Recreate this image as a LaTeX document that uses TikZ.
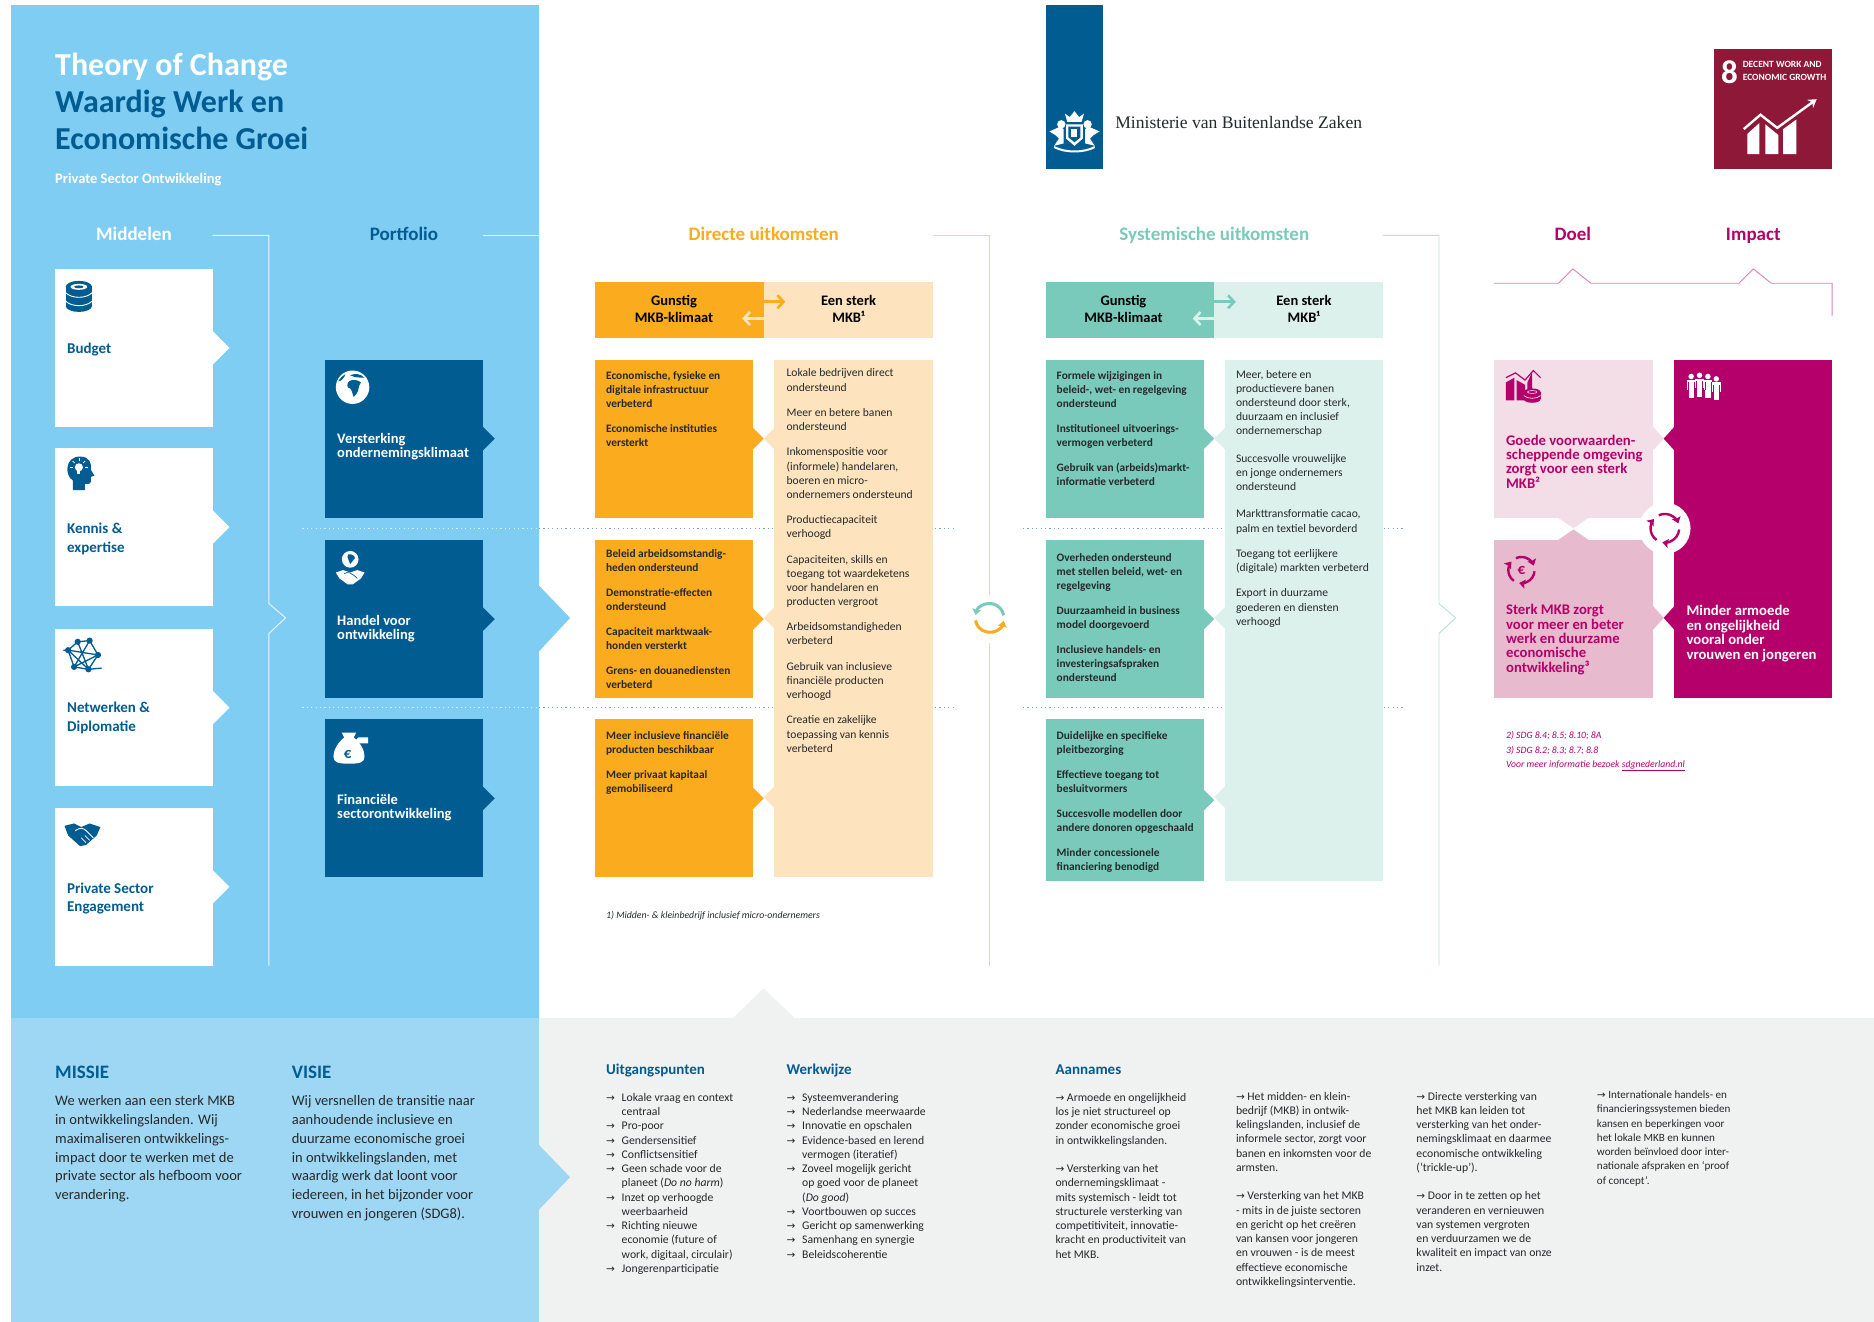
\documentclass[tikz,border=0pt]{standalone}
\usepackage{fontspec}
\usetikzlibrary{calc,arrows.meta}
\setmainfont{Carlito}
\newfontfamily\arfont{DejaVu Sans}
\newfontfamily\serfont{Liberation Serif}
\definecolor{panel}{HTML}{7FCDF3}
\definecolor{panellow}{HTML}{9ED7F3}
\definecolor{graylow}{HTML}{F0F1F1}
\definecolor{db}{HTML}{015C92}
\definecolor{org}{HTML}{FBAB1E}
\definecolor{cream}{HTML}{FEE3BF}
\definecolor{orgl}{HTML}{F8D594}
\definecolor{teal1}{HTML}{7ACABC}
\definecolor{teall}{HTML}{DCF1EC}
\definecolor{tealln}{HTML}{B5E2D9}
\definecolor{mag}{HTML}{B5006B}
\definecolor{pinkl}{HTML}{F3DDE6}
\definecolor{pinkm}{HTML}{E7BACD}
\definecolor{pinkln}{HTML}{DB82B4}
\definecolor{sdg}{HTML}{8E1837}
\definecolor{dotb}{HTML}{6FA8CC}
\definecolor{ink}{HTML}{26292B}
\newcommand\ar{{\arfont\fontsize{10.5}{10.5}\selectfont →}}
\newcommand\la[1]{\makebox[15.6pt][l]{\ar}#1}
\newcommand\li[1]{\hspace*{15.6pt}#1}
\tikzset{
 tx/.style n args={3}{inner sep=0pt,anchor=north west,align=left,font=\fontsize{#1}{#2}\selectfont #3,yshift=#1*0.36pt,execute at begin node={\rule{0pt}{1em}}},
 sg/.style={yshift=#1*0.26pt},
 bodyb/.style={tx={11.35}{14}{\bfseries},text=ink},
 bodyr/.style={tx={11.6}{14.1}{},text=ink},
 hdr/.style={tx={14.5}{17.8}{\bfseries},anchor=north,align=center,text=black},
 res/.style={tx={15}{18.6}{\bfseries},text=db},
 por/.style={tx={14.5}{14.2}{\bfseries},text=white},
 dl/.style={tx={14.7}{14.4}{\bfseries},text=mag},
 sect/.style={tx={19}{22}{\bfseries},anchor=north,sg=19},
 low/.style={tx={14.5}{18.8}{},text=ink},
 lowh/.style={tx={19}{22}{\bfseries},text=db,sg=19},
 lsm/.style={tx={11.7}{14.25}{},text=ink},
 lsmh/.style={tx={15}{18}{\bfseries},text=db,sg=15},
 blk/.style={inner sep=0pt,outer sep=0pt,draw=none},
 dotl/.style={line width=1pt,dash pattern=on 1.2pt off 3.2pt},
 rule/.style={line width=0.9pt},
}
\newcommand\bx[6]{\node[blk,fill=#6,minimum width={(#4-#2)*1.1952pt},minimum height={(#5-#3)*1.1952pt}] (#1) at ({(#2+#4)/2},{(#3+#5)/2}) {};}
\newcommand\tailr[3]{\fill[#2] ($(#1.east)+(0,-#3)$) -- ++(#3,#3) -- ++(-#3,#3) -- cycle;}
\newcommand\tailat[5]{\fill[#1] (#2,{#3-#5}) -- ++(#4,#5) -- ++(-#4,#5) -- cycle;}
\newcommand\cyc[5]{%
 \draw[#4,line width=3pt,{Stealth[length=6pt,width=9pt,inset=1pt]}-] ({#1+#3*cos(192)},{#2+#3*sin(192)}) arc[start angle=192,end angle=350,radius=#3];
 \draw[#5,line width=3pt,{Stealth[length=6pt,width=9pt,inset=1pt]}-] ({#1+#3*cos(12)},{#2+#3*sin(12)}) arc[start angle=12,end angle=170,radius=#3];}
\newcommand\cyct[4]{%
 \foreach \aa in {0,120,240}{\draw[#4,line width=2.4pt,-{Stealth[length=6pt,width=9pt,inset=1pt]}] ({#1+#3*cos(\aa+5)},{#2+#3*sin(\aa+5)}) arc[start angle=\aa+5,end angle=\aa+100,radius=#3];}}
\begin{document}
\begin{tikzpicture}[x=1.1952pt,y=-1.1952pt]
\useasboundingbox (0,0) rectangle (1568,1106);
\fill[white] (0,0) rectangle (1568,1106);
% panels
\fill[panel] (9,4) rectangle (451,852);
\fill[panellow] (9,852) rectangle (451,1106);
\fill[graylow] (451,852) rectangle (1568,1106);
\fill[graylow] (613,852) -- (639,827) -- (665,852) -- cycle;
\fill[panel] (451,490) -- (477,517) -- (451,545) -- cycle;
\fill[panellow] (451,958) -- (477,985) -- (451,1012) -- cycle;
% title
\node[tx={32}{37}{\bfseries},sg=32,text=white] (t1) at (46,53) {Theory of Change};
\node[tx={32}{37}{\bfseries},text=db] (t2) at (46,85) {Waardig Werk en\\Economische Groei};
\node[tx={14.5}{17}{\bfseries},sg=14.5,text=white] (t3) at (46,149) {Private Sector Ontwikkeling};
% section titles
\node[sect,text=white] (sMid) at (112,195) {Middelen};
\node[sect,text=db] (sPor) at (338,195) {Portfolio};
\node[sect,text=org] (sDir) at (639,195) {Directe uitkomsten};
\node[sect,text=teal1] (sSys) at (1016,195) {Systemische uitkomsten};
\node[sect,text=mag] (sDoel) at (1316,195) {Doel};
\node[sect,text=mag] (sImp) at (1467,195) {Impact};
% section rules
\coordinate (m0) at (178,197); \coordinate (m1) at (225,197); \coordinate (m2) at (225,505); \coordinate (m3) at (239,517); \coordinate (m4) at (225,530); \coordinate (m5) at (225,808);
\draw[rule,white!85!panel] (m0) -- (m1) -- (m2) -- (m3) -- (m4) -- (m5);
\coordinate (p0) at (404,197); \coordinate (p1) at (451,197);
\draw[rule,white!85!panel] (p0) -- (p1);
\coordinate (d0) at (781,197); \coordinate (d1) at (828,197); \coordinate (d2) at (828,498); \coordinate (d3) at (828,538); \coordinate (d4) at (828,808);
\draw[rule,orgl] (d0) -- (d1) -- (d2); \draw[rule,orgl] (d3) -- (d4);
\coordinate (s0) at (1157,197); \coordinate (s1) at (1204,197); \coordinate (s2) at (1204,505); \coordinate (s3) at (1218,517); \coordinate (s4) at (1204,530); \coordinate (s5) at (1204,808);
\draw[rule,tealln] (s0) -- (s1) -- (s2) -- (s3) -- (s4) -- (s5);
\coordinate (b0) at (1250,237); \coordinate (b1) at (1304,237); \coordinate (b2) at (1316,225); \coordinate (b3) at (1331,237); \coordinate (b4) at (1455,237); \coordinate (b5) at (1467,225); \coordinate (b6) at (1482,237); \coordinate (b7) at (1533,237); \coordinate (b8) at (1533,264);
\draw[rule,pinkln] (b0) -- (b1) -- (b2) -- (b3) -- (b4) -- (b5) -- (b6) -- (b7) -- (b8);
% dotted
\foreach \yy in {442,592}{
 \draw[dotl,white!70!panel] (253,\yy) -- (451,\yy);
 \draw[dotl,dotb] (451,\yy) -- (800,\yy);
 \draw[dotl,dotb] (856,\yy) -- (1176,\yy);}
% middelen
\bx{w1}{46}{225}{178}{357}{white} \tailr{w1}{white}{14}
\bx{w2}{46}{375}{178}{507}{white} \tailr{w2}{white}{14}
\bx{w3}{46}{526}{178}{658}{white} \tailr{w3}{white}{14}
\bx{w4}{46}{676}{178}{808}{white} \tailr{w4}{white}{14}
\node[res,sg=15] (wt1) at (56,291) {Budget};
\node[res] (wt2) at (56,442) {Kennis \&\\expertise};
\node[res] (wt3) at (56,592) {Netwerken \&\\Diplomatie};
\node[res] (wt4) at (56,743) {Private Sector\\Engagement};
% portfolio
\bx{p1b}{272}{301}{404}{433}{db} \tailr{p1b}{db}{10}
\bx{p2b}{272}{452}{404}{584}{db} \tailr{p2b}{db}{10}
\bx{p3b}{272}{602}{404}{734}{db} \tailr{p3b}{db}{10}
\node[por] (pt1) at (282,367) {Versterking\\ondernemingsklimaat};
\node[por] (pt2) at (282,519) {Handel voor\\ontwikkeling};
\node[por] (pt3) at (282,669) {Financiële\\sectorontwikkeling};
% directe
\bx{dh1}{498}{236}{639}{283}{org}
\bx{dh2}{639}{236}{781}{283}{cream}
\draw[org,line width=2.6pt,-{Straight Barb[length=6pt,width=13pt]}] ($(dh1.east)+(0,-7)$) -- ++(18,0);
\draw[cream,line width=2.6pt,-{Straight Barb[length=6pt,width=13pt]}] ($(dh1.east)+(0,7)$) -- ++(-18,0);
\node[hdr] (dht1) at (564,251) {Gunstig\\MKB-klimaat};
\node[hdr] (dht2) at (710,251) {Een sterk\\MKB¹};
\bx{o1}{498}{301}{630}{433}{org} \tailr{o1}{org}{9}
\bx{o2}{498}{452}{630}{584}{org} \tailr{o2}{org}{9}
\bx{o3}{498}{602}{630}{734}{org} \tailr{o3}{org}{9}
\bx{c1}{648}{301}{781}{734}{cream}
\tailat{cream}{648}{367}{-9}{9} \tailat{cream}{648}{517}{-9}{9} \tailat{cream}{648}{667}{-9}{9}
\node[bodyb] (ot1) at (507,314) {Economische, fysieke en\\digitale infrastructuur\\verbeterd\\[11pt]Economische instituties\\versterkt};
\node[bodyb] (ot2) at (507,463) {Beleid arbeidsomstandig-\\heden ondersteund\\[11pt]Demonstratie-effecten\\ondersteund\\[11pt]Capaciteit marktwaak-\\honden versterkt\\[11pt]Grens- en douanediensten\\verbeterd};
\node[bodyb] (ot3) at (507,615) {Meer inclusieve financiële\\producten beschikbaar\\[11pt]Meer privaat kapitaal\\gemobiliseerd};
\node[bodyr] (ct1) at (658,312) {Lokale bedrijven direct\\ondersteund\\[11.3pt]Meer en betere banen\\ondersteund\\[11.3pt]Inkomenspositie voor\\(informele) handelaren,\\boeren en micro-\\ondernemers ondersteund\\[11.3pt]Productiecapaciteit\\verhoogd\\[11.3pt]Capaciteiten, skills en\\toegang tot waardeketens\\voor handelaren en\\producten vergroot\\[11.3pt]Arbeidsomstandigheden\\verbeterd\\[11.3pt]Gebruik van inclusieve\\financiële producten\\verhoogd\\[11.3pt]Creatie en zakelijke\\toepassing van kennis\\verbeterd};
\node[tx={9.8}{13}{\itshape},sg=9.8,text=ink] (fn1) at (507,765) {1) Midden- \& kleinbedrijf inclusief micro-ondernemers};
\cyc{828}{517}{12}{teal1}{org}
% systemisch
\bx{sh1}{875}{236}{1016}{283}{teal1}
\bx{sh2}{1016}{236}{1157}{283}{teall}
\draw[teal1,line width=2.6pt,-{Straight Barb[length=6pt,width=13pt]}] ($(sh1.east)+(0,-7)$) -- ++(18,0);
\draw[teall,line width=2.6pt,-{Straight Barb[length=6pt,width=13pt]}] ($(sh1.east)+(0,7)$) -- ++(-18,0);
\node[hdr] (sht1) at (940,251) {Gunstig\\MKB-klimaat};
\node[hdr] (sht2) at (1091,251) {Een sterk\\MKB¹};
\bx{g1}{875}{301}{1007}{433}{teal1} \tailr{g1}{teal1}{9}
\bx{g2}{875}{452}{1007}{584}{teal1} \tailr{g2}{teal1}{9}
\bx{g3}{875}{602}{1007}{737}{teal1} \tailr{g3}{teal1}{9}
\bx{l1}{1025}{301}{1157}{737}{teall}
\tailat{teall}{1025}{367}{-9}{9} \tailat{teall}{1025}{517}{-9}{9} \tailat{teall}{1025}{667}{-9}{9}
\node[bodyb] (gt1) at (884,314) {Formele wijzigingen in\\beleid-, wet- en regelgeving\\ondersteund\\[11pt]Institutioneel uitvoerings-\\vermogen verbeterd\\[11pt]Gebruik van (arbeids)markt-\\informatie verbeterd};
\node[bodyb] (gt2) at (884,466) {Overheden ondersteund\\met stellen beleid, wet- en\\regelgeving\\[11pt]Duurzaamheid in business\\model doorgevoerd\\[11pt]Inclusieve handels- en\\investeringsafspraken\\ondersteund};
\node[bodyb] (gt3) at (884,615) {Duidelijke en specifieke\\pleitbezorging\\[11pt]Effectieve toegang tot\\besluitvormers\\[11pt]Succesvolle modellen door\\andere donoren opgeschaald\\[11pt]Minder concessionele\\financiering benodigd};
\node[bodyr] (lt1) at (1034,313) {Meer, betere en\\productievere banen\\ondersteund door sterk,\\duurzaam en inclusief\\ondernemerschap\\[13.5pt]Succesvolle vrouwelijke\\en jonge ondernemers\\ondersteund\\[13.5pt]Markttransformatie cacao,\\palm en textiel bevorderd\\[11.3pt]Toegang tot eerlijkere\\(digitale) markten verbeterd\\[11.3pt]Export in duurzame\\goederen en diensten\\verhoogd};
% doel impact
\bx{q1}{1250}{301}{1383}{433}{pinkl}
\bx{q2}{1250}{452}{1383}{584}{pinkm}
\bx{q3}{1401}{301}{1533}{584}{mag}
\tailat{pinkl}{1383}{367}{9}{10} \tailat{pinkm}{1383}{517}{9}{10}
\tailat{mag}{1401}{367}{-9}{10} \tailat{mag}{1401}{517}{-9}{10}
\fill[pinkl] ($(q1.south)+(-13,0)$) -- ++(13,9) -- ++(13,-9) -- cycle;
\fill[pinkm] ($(q2.north)+(-13,0)$) -- ++(13,-9) -- ++(13,9) -- cycle;
\fill[white] (1393,442) circle (21.5);
\cyct{1393}{442}{12}{mag}
\node[dl] (qt1) at (1260,368) {Goede voorwaarden-\\scheppende omgeving\\zorgt voor een sterk\\MKB²};
\node[dl] (qt2) at (1260,510) {Sterk MKB zorgt\\voor meer en beter\\werk en duurzame\\economische\\ontwikkeling³};
\node[dl,text=white] (qt3) at (1411,511) {Minder armoede\\en ongelijkheid\\vooral onder\\vrouwen en jongeren};
\node[tx={9.7}{14.2}{\itshape},text=mag] (qf) at (1260,615) {2) SDG 8.4; 8.5; 8.10; 8A\\3) SDG 8.2; 8.3; 8.7; 8.8\\Voor meer informatie bezoek \underline{sdgnederland.nl}};
% ministerie
\bx{mb}{875}{4}{923}{141}{db}
\node[tx={17.6}{22}{},sg=17.6,font=\fontsize{17.6}{22}\serfont,text=ink] (mt) at (933,102) {Ministerie van Buitenlandse Zaken};
\begin{scope}[shift={(899,113)},white]
 \fill (-6,-11) -- (-8,-18) -- (-4,-15) -- (0,-20) -- (4,-15) -- (8,-18) -- (6,-11) -- cycle;
 \fill (-7,-9) -- (7,-9) -- (7,3) -- (0,9) -- (-7,3) -- cycle;
 \fill[db] (-5,-7) -- (5,-7) -- (5,2) -- (0,6) -- (-5,2) -- cycle;
 \fill (-2.5,-5) rectangle (2.5,2);
 \fill (-11,-9) circle (3.5); \fill (11,-9) circle (3.5);
 \fill (-21,-3) -- (-12,-7) -- (-9,-5) -- (-9,7) -- (-17,9) -- (-13,3) -- (-16,0) -- cycle;
 \fill (21,-3) -- (12,-7) -- (9,-5) -- (9,7) -- (17,9) -- (13,3) -- (16,0) -- cycle;
 \draw[line width=2pt] (-17,10) .. controls (-8,15) and (8,15) .. (17,10);
\end{scope}
% SDG
\bx{sb}{1434}{41}{1533}{141}{sdg}
\node[tx={33}{33}{\bfseries},sg=33,text=white] (s8) at (1440,59) {8};
\node[tx={9.5}{13.2}{\bfseries},text=white] (st) at (1458,54) {DECENT WORK AND\\ECONOMIC GROWTH};
\fill[white] (1462,129) -- (1462,112) -- (1472,103) -- (1472,129) -- cycle;
\fill[white] (1477,129) -- (1477,104) -- (1488,113) -- (1488,129) -- cycle;
\fill[white] (1492,129) -- (1492,108) -- (1503,100) -- (1503,129) -- cycle;
\draw[white,line width=2.4pt,-{Stealth[length=8pt,width=10pt]}] (1459,108) -- (1473,96) -- (1487,107) -- (1520,83);
% icons: coins
\begin{scope}[shift={(66,248)},db]
 \fill (-11,-8) rectangle (11,8);
 \fill (0,-8) ellipse [x radius=11,y radius=5];
 \fill (0,8) ellipse [x radius=11,y radius=5];
 \fill[white] (0,-8) ellipse [x radius=7,y radius=2.5];
 \fill (0,-8) ellipse [x radius=4,y radius=1.2];
 \draw[white,line width=.9pt] (-11,-3) .. controls (-6,2) and (6,2) .. (11,-3);
 \draw[white,line width=.9pt] (-11,4) .. controls (-6,9) and (6,9) .. (11,4);
\end{scope}
% head
\begin{scope}[shift={(67,396)}]
 \fill[db] (-6,14) -- (-6,6) .. controls (-13,2) and (-13,-14) .. (0,-14) .. controls (8,-14) and (10,-8) .. (9,-3) -- (12,2) -- (9,3) -- (9,7) .. controls (9,9) and (6,9) .. (4,9) -- (4,14) -- cycle;
 \fill[white] (-1,-5) circle (3.4); \fill[white] (-2.2,-2.5) rectangle (.2,1);
 \foreach \aa in {180,225,270,315,0}{\draw[white,line width=.7pt] ({-1+5*cos(\aa)},{-5+5*sin(\aa)}) -- ({-1+7.5*cos(\aa)},{-5+7.5*sin(\aa)});}
\end{scope}
% network
\begin{scope}[shift={(70,548)},db]
 \draw[line width=1.3pt] (-13,-4) -- (-5,-11) -- (5,-12) -- (12,0) -- (4,12) -- (-8,10) -- cycle;
 \draw[line width=1.3pt] (-13,-4) -- (12,0) (-5,-11) -- (4,12) (5,-12) -- (-8,10) (-13,-4) -- (4,12) (-8,10) -- (12,0) (4,12) -- (15,11) (-13,-4) -- (-17,-4);
 \foreach \p in {(-13,-4),(-5,-11),(5,-12),(12,0),(4,12),(-8,10)}{\fill \p circle (2.6);}
\end{scope}
% handshake
\begin{scope}[shift={(69,698)}]
 \fill[db] (-15,-7) -- (-7,-9) -- (-1,-6) -- (6,-9) -- (15,-6) -- (12,1) -- (3,9) -- (-2,10) -- (-12,1) -- cycle;
 \draw[white,line width=.9pt] (-6,-3) .. controls (-2,-6) and (1,-5) .. (3,-3) -- (9,3);
 \draw[white,line width=.7pt] (-1,3) -- (3,7) (2,1) -- (6,5);
\end{scope}
% globe
\begin{scope}[shift={(295,324)}]
 \fill[white] (0,0) circle (14);
 \fill[db] (-3,-5) .. controls (0,-7) and (5,-6) .. (7,-4) .. controls (6,-2) and (5,-1) .. (5,1) .. controls (5,4) and (2,7) .. (1,8) .. controls (0,7) and (0,3) .. (-2,1) .. controls (-5,1) and (-5,-3) .. (-3,-5) -- cycle;
 \fill[db] (-2,-10) .. controls (2,-12) and (7,-11) .. (10,-8) .. controls (6,-8) and (2,-8) .. (-2,-10) -- cycle;
 \fill[db] (-12,-5) .. controls (-10,-8) and (-8,-10) .. (-6,-11) .. controls (-7,-8) and (-9,-5) .. (-12,-5) -- cycle;
\end{scope}
% trade
\begin{scope}[shift={(293,475)}]
 \fill[white] (0,-7) circle (7);
 \fill[db] (-2,-11) .. controls (1,-12) and (4,-10) .. (4,-8) .. controls (2,-7) and (2,-4) .. (0,-3) .. controls (0,-6) and (-3,-7) .. (-2,-11) -- cycle;
 \fill[white] (-12,4) -- (-6,2) -- (0,4) -- (6,2) -- (12,4) -- (9,9) -- (2,14) -- (-2,14) -- (-9,9) -- cycle;
 \draw[db,line width=.7pt] (-5,5) .. controls (-2,3) and (1,4) .. (6,9);
\end{scope}
% money bag
\begin{scope}[shift={(292,626)}]
 \fill[white] (-4,-9) -- (-6,-13) -- (6,-13) -- (4,-9) .. controls (10,-4) and (13,2) .. (13,7) .. controls (13,12) and (9,13) .. (0,13) .. controls (-9,13) and (-13,12) .. (-13,7) .. controls (-13,2) and (-10,-4) .. (-4,-9) -- cycle;
 \node[inner sep=0pt,text=db,font=\fontsize{15}{15}\selectfont\bfseries] (eur1) at (-1,5) {€};
 \fill[white] (5,-6) -- (8,-9) -- (16,-9) -- (16,-4) -- (8,-4) -- cycle;
\end{scope}
% chart icon
\begin{scope}[shift={(1274,324)}]
 \fill[mag] (-14,-4) -- (-7,-8) -- (-7,11) -- (-14,11) -- cycle;
 \fill[mag] (-5,-6) -- (2,-2) -- (2,11) -- (-5,11) -- cycle;
 \fill[mag] (4,-4) -- (8,-13) -- (8,3) -- (4,11) -- cycle;
 \draw[mag,line width=1.2pt] (-14,-8) -- (-6,-12) -- (2,-6) -- (9,-14) -- (15,-8);
 \fill[mag] (8,4) ellipse [x radius=7,y radius=3];
 \fill[mag] (1,4) rectangle (15,10);
 \fill[mag] (8,10) ellipse [x radius=7,y radius=3];
 \draw[white,line width=.6pt] (1,7) .. controls (4,10) and (12,10) .. (15,7);
 \draw[white,line width=.5pt] (8,4) ellipse [x radius=4,y radius=1.2];
\end{scope}
% euro cycle
\cyct{1273}{477}{11}{mag}
\node[inner sep=0pt,text=mag,font=\fontsize{15}{15}\selectfont\bfseries] (eur2) at (1273,477) {€};
% people
\begin{scope}[shift={(1426,324)}]
 \foreach \xx/\yy in {-11/-1,-4/-2,3/-1,10/1}{
  \fill[white] (\xx,{\yy-8}) circle (2.3);
  \fill[white] ({\xx-3.6},{\yy-5}) rectangle ({\xx+3.6},{\yy+3});
  \fill[white] ({\xx-2.2},{\yy+3}) rectangle ({\xx+2.2},{\yy+10});
  \draw[mag,line width=.4pt] ({\xx-2.4},{\yy-3}) -- ({\xx-2.4},{\yy+3}) ({\xx+2.4},{\yy-3}) -- ({\xx+2.4},{\yy+3});}
\end{scope}
% lower
\node[lowh] (mh) at (46,896) {MISSIE};
\node[lowh] (vh) at (244,896) {VISIE};
\node[low] (mtx) at (46,921) {We werken aan een sterk MKB\\in ontwikkelingslanden. Wij\\maximaliseren ontwikkelings-\\impact door te werken met de\\private sector als hefboom voor\\verandering.};
\node[low] (vtx) at (244,921) {Wij versnellen de transitie naar\\aanhoudende inclusieve en\\duurzame economische groei\\in ontwikkelingslanden, met\\waardig werk dat loont voor\\iedereen, in het bijzonder voor\\vrouwen en jongeren (SDG8).};
\node[lsmh] (uh) at (507,894) {Uitgangspunten};
\node[lsmh] (wh) at (658,894) {Werkwijze};
\node[lsmh] (ah) at (883,894) {Aannames};
\node[lsm] (ul) at (507,918) {\la{Lokale vraag en context}\\\li{centraal}\\\la{Pro-poor}\\\la{Gendersensitief}\\\la{Conflictsensitief}\\\la{Geen schade voor de}\\\li{planeet (\textit{Do no harm})}\\\la{Inzet op verhoogde}\\\li{weerbaarheid}\\\la{Richting nieuwe}\\\li{economie (future of}\\\li{work, digitaal, circulair)}\\\la{Jongerenparticipatie}};
\node[lsm] (wl) at (658,918) {\la{Systeemverandering}\\\la{Nederlandse meerwaarde}\\\la{Innovatie en opschalen}\\\la{Evidence-based en lerend}\\\li{vermogen (iteratief)}\\\la{Zoveel mogelijk gericht}\\\li{op goed voor de planeet}\\\li{(\textit{Do good})}\\\la{Voortbouwen op succes}\\\la{Gericht op samenwerking}\\\la{Samenhang en synergie}\\\la{Beleidscoherentie}};
\node[lsm] (a1) at (883,918) {\ar{} Armoede en ongelijkheid\\los je niet structureel op\\zonder economische groei\\in ontwikkelingslanden.\\[14.25pt]\ar{} Versterking van het\\ondernemingsklimaat -\\mits systemisch - leidt tot\\structurele versterking van\\competitiviteit, innovatie-\\kracht en productiviteit van\\het MKB.};
\node[lsm] (a2) at (1034,917) {\ar{} Het midden- en klein-\\bedrijf (MKB) in ontwik-\\kelingslanden, inclusief de\\informele sector, zorgt voor\\banen en inkomsten voor de\\armsten.\\[14.25pt]\ar{} Versterking van het MKB\\- mits in de juiste sectoren\\en gericht op het creëren\\van kansen voor jongeren\\en vrouwen - is de meest\\effectieve economische\\ontwikkelingsinterventie.};
\node[lsm] (a3) at (1185,917) {\ar{} Directe versterking van\\het MKB kan leiden tot\\versterking van het onder-\\nemingsklimaat en daarmee\\economische ontwikkeling\\(‘trickle-up’).\\[14.25pt]\ar{} Door in te zetten op het\\veranderen en vernieuwen\\van systemen vergroten\\en verduurzamen we de\\kwaliteit en impact van onze\\inzet.};
\node[tx={11.1}{14.25}{},text=ink] (a4) at (1336,916) {\ar{} Internationale handels- en\\financieringssystemen bieden\\kansen en beperkingen voor\\het lokale MKB en kunnen\\worden beïnvloed door inter-\\nationale afspraken en ‘proof\\of concept’.};
\end{tikzpicture}
\end{document}
